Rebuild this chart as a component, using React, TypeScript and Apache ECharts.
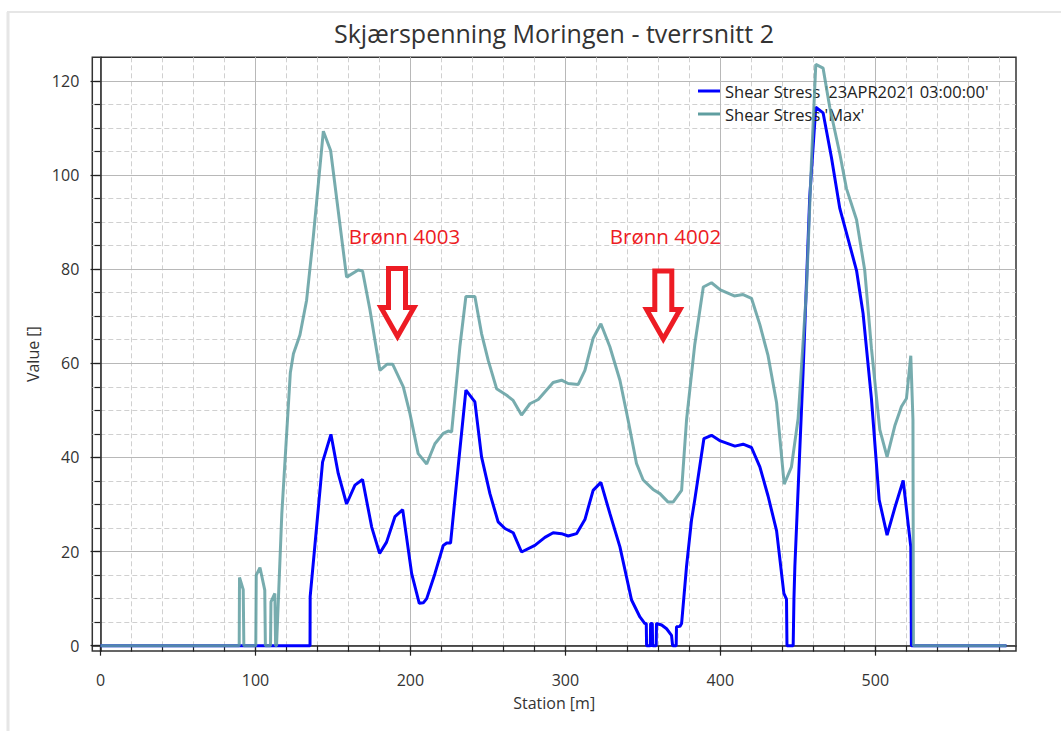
import React, { useEffect, useRef } from "react";
import * as echarts from "echarts";

const TITLE = "Skjærspenning Moringen - tverrsnitt 2";
const SERIES_NOW = "Shear Stress '23APR2021 03:00:00'";
const SERIES_MAX = "Shear Stress 'Max'";
const X_NAME = "Station [m]";
const Y_NAME = "Value []";

const stationsNow = [0, 135.2, 135.3, 143.3, 148.7, 153.4, 158.8, 164.2, 169.1, 175, 180.1, 184.6, 190, 195, 200.8, 205.7, 208.3, 210.5, 215.8, 221.2, 223.4, 225.9, 230.8, 235.8, 241.6, 245.9, 251.3, 256.6, 261, 266.3, 271.7, 280.3, 286.8, 292.1, 297.5, 301.8, 307.2, 312.6, 317.9, 322.9, 328.7, 335.2, 342.7, 348.1, 351.3, 352.2, 352.4, 354.8, 355, 356.1, 356.3, 358.6, 358.8, 362.1, 365.3, 368.5, 369.2, 371.5, 371.7, 373.9, 375, 378.2, 381.4, 383.5, 389.4, 394.3, 400, 409.4, 414.7, 420.1, 425.5, 430.8, 436.3, 441, 442.7, 443, 447, 447.5, 448.1, 453.4, 457.7, 461.6, 466.3, 471.7, 477.1, 482.5, 487.9, 492.1, 497.5, 502.5, 507.6, 512.6, 518, 522.9, 523.3, 584.6];
const valuesNow = [0, 0, 10.4, 39, 44.9, 36.6, 30.1, 34.1, 35.3, 25.2, 19.6, 22, 27.4, 28.9, 15.3, 9, 9.1, 10, 15.3, 21.3, 21.8, 21.8, 38, 54.3, 51.8, 40.1, 32.3, 26.3, 24.9, 24, 19.9, 21.3, 23, 24, 23.8, 23.3, 23.8, 26.8, 33, 34.7, 28.1, 21, 9.7, 6.1, 4.7, 4.7, 0, 0, 4.7, 4.7, 0, 0, 4.7, 4.4, 3.6, 2.2, 0, 0, 4, 4.1, 4.7, 16.9, 26.7, 31, 44, 44.7, 43.5, 42.4, 42.8, 42.1, 38, 31.8, 24.4, 11.1, 9.9, 0, 0, 10, 16.9, 58.2, 95.4, 114.4, 113.2, 103.7, 92.9, 86.3, 79.7, 70.6, 52.5, 31, 23.5, 29.3, 35.1, 21, 0, 0];

const stationsMax = [0, 89.5, 89.7, 92.1, 92.5, 100.2, 100.5, 102.9, 106, 106.4, 109.7, 110, 112.5, 113, 113.6, 117, 122.5, 124.5, 128.7, 133, 137.3, 143.8, 148.5, 158.8, 166.3, 169.1, 173.9, 180.3, 185, 188.5, 195.4, 199.7, 205, 210.5, 215.8, 221.2, 224.4, 226.6, 231.9, 235.8, 241.6, 245.9, 250.2, 255.6, 262.1, 266.3, 271.7, 277.1, 282.5, 292.1, 297.5, 301.8, 308.3, 312.6, 317.9, 322.9, 328.7, 335.2, 340.5, 345.9, 350.2, 356.6, 361, 366.3, 369.5, 375, 378.2, 383.5, 389, 394.3, 400, 409, 414.7, 420.1, 425.5, 430.8, 436.3, 441.2, 445.9, 450.2, 455.6, 458.8, 461.6, 466.3, 470.6, 477.1, 481.4, 487.9, 493.2, 497.5, 502.9, 507.6, 512.6, 516.9, 520.1, 522.9, 524.3, 524.6, 584.6];
const valuesMax = [0, 0, 14.5, 11.9, 0, 0, 15, 16.6, 11.8, 0, 0, 9.3, 11.1, 0, 0, 28, 58, 62, 66, 73.4, 86.8, 109.3, 105.2, 78.3, 79.8, 79.6, 71.3, 58.5, 59.8, 59.8, 55, 49.3, 40.8, 38.6, 42.9, 45.1, 45.6, 45.4, 63.5, 74.2, 74.2, 66.3, 60.6, 54.6, 53.2, 52.1, 49, 51.4, 52.3, 55.9, 56.4, 55.7, 55.5, 58.5, 65.3, 68.4, 63.5, 56.4, 47.9, 38.7, 35.2, 33.2, 32.3, 30.5, 30.5, 33, 48, 64, 76.2, 77.1, 75.6, 74.3, 74.6, 73.8, 68.2, 61.6, 51.6, 34.3, 38, 48.3, 75.6, 102.9, 123.5, 122.7, 114.4, 104.5, 97.1, 90.5, 79.7, 63.2, 45.9, 40.1, 46.7, 50.8, 52.5, 61.6, 48, 0, 0];

const xMajorTicks = [0, 100, 200, 300, 400, 500];
const xMinorTicks = [0, 20, 40, 60, 80, 100, 120, 140, 160, 180, 200, 220, 240, 260, 280, 300, 320, 340, 360, 380, 400, 420, 440, 460, 480, 500, 520, 540, 560, 580];
const yMajorTicks = [0, 20, 40, 60, 80, 100, 120];
const yMinorTicks = [0, 5, 10, 15, 20, 25, 30, 35, 40, 45, 50, 55, 60, 65, 70, 75, 80, 85, 90, 95, 100, 105, 110, 115, 120];

const annotations = ["Brønn 4003", "Brønn 4002"];

const X_MIN = -5.3;
const X_MAX = 590.8;
const Y_MIN = -1.13;
const Y_MAX = 125;

const FONT = "'Open Sans', 'Noto Sans', sans-serif";
const BLUE = "#0000ff";
const TEAL = "#5f9ea0";
const RED = "#ed1c24";
const AXIS = "#222";

export default function App() {
  const ref = useRef<HTMLDivElement>(null);
  useEffect(() => {
    if (!ref.current) return;
    const chart = echarts.init(ref.current, null, { renderer: "svg" });
    const now = stationsNow.map((s, i) => [s, valuesNow[i]]);
    const max = stationsMax.map((s, i) => [s, valuesMax[i]]);
    const tickStyle = { color: AXIS, width: 1.2 };
    const arrow1 = [[388.5, 268.5], [405.5, 268.5], [405.5, 307.5], [414, 307.5], [397.5, 336.5], [381, 307.5], [388.5, 307.5]];
    const arrow2 = [[654.8, 271], [671.8, 271], [671.8, 309.5], [680, 309.5], [663.3, 339], [646.6, 309.5], [654.8, 309.5]];
    chart.setOption({
      animation: false,
      backgroundColor: "#ffffff",
      textStyle: { fontFamily: FONT },
      grid: {
        left: 92.3, top: 57.3, right: 45, bottom: 80,
        show: true, borderColor: "#333", borderWidth: 1.5, backgroundColor: "transparent",
      },
      legend: {
        left: 693, top: 76, orient: "vertical", icon: "rect",
        itemWidth: 22, itemHeight: 3, itemGap: 3,
        textStyle: { fontSize: 16.5, color: "#222", fontFamily: FONT, lineHeight: 20 },
        data: [SERIES_NOW, SERIES_MAX],
      },
      xAxis: [
        {
          type: "value", min: X_MIN, max: X_MAX, position: "bottom", z: 0,
          axisLine: { show: false },
          axisTick: { show: true, length: 6, customValues: xMinorTicks, lineStyle: tickStyle },
          axisLabel: { show: false },
          splitLine: { show: true, lineStyle: { color: "#d0d0d0", type: [5, 3], width: 1 } },
        },
        {
          type: "value", min: X_MIN, max: X_MAX, position: "bottom", z: 1,
          axisLine: { show: true, lineStyle: { color: AXIS, width: 1.5 } },
          axisTick: { show: true, length: 10, customValues: xMajorTicks, lineStyle: tickStyle },
          axisLabel: { show: true, customValues: xMajorTicks, margin: 21, fontSize: 16, color: "#333", fontFamily: FONT },
          splitLine: { show: true, lineStyle: { color: "#b8b8b8", width: 1 } },
          name: X_NAME, nameLocation: "middle", nameGap: 44,
          nameTextStyle: { fontSize: 16, color: "#333", fontFamily: FONT },
        },
      ],
      yAxis: [
        {
          type: "value", min: Y_MIN, max: Y_MAX, position: "left", z: 0,
          axisLine: { show: false },
          axisTick: { show: true, length: 6, customValues: yMinorTicks, lineStyle: tickStyle },
          axisLabel: { show: false },
          splitLine: { show: true, lineStyle: { color: "#d0d0d0", type: [5, 3], width: 1 } },
        },
        {
          type: "value", min: Y_MIN, max: Y_MAX, position: "left", z: 1,
          axisLine: { show: true, lineStyle: { color: AXIS, width: 1.5 } },
          axisTick: { show: true, length: 10, customValues: yMajorTicks, lineStyle: tickStyle },
          axisLabel: { show: true, customValues: yMajorTicks, margin: 13, fontSize: 16, color: "#333", fontFamily: FONT },
          splitLine: { show: true, lineStyle: { color: "#b8b8b8", width: 1 } },
          name: Y_NAME, nameLocation: "middle", nameGap: 42,
          nameTextStyle: { fontSize: 16, color: "#333", fontFamily: FONT },
        },
      ],
      series: [
        {
          name: SERIES_NOW, type: "line", xAxisIndex: 1, yAxisIndex: 1,
          data: now, showSymbol: false, symbol: "none",
          lineStyle: { color: BLUE, width: 3 }, itemStyle: { color: BLUE },
          z: 3,
        },
        {
          name: SERIES_MAX, type: "line", xAxisIndex: 1, yAxisIndex: 1,
          data: max, showSymbol: false, symbol: "none",
          lineStyle: { color: TEAL, width: 3, opacity: 0.85 }, itemStyle: { color: TEAL },
          z: 4,
        },
      ],
      graphic: [
        { type: "line", shape: { x1: 7, y1: 12, x2: 1061, y2: 12 }, style: { stroke: "#e6e6e6", lineWidth: 2 }, silent: true },
        { type: "line", shape: { x1: 8, y1: 12, x2: 8, y2: 731 }, style: { stroke: "#e6e6e6", lineWidth: 3 }, silent: true },
        {
          type: "text", x: 554, y: 33,
          style: { text: TITLE, fill: "#333", font: `25px ${FONT}`, align: "center", verticalAlign: "middle" },
        },
        {
          type: "text", x: 404.5, y: 236, z: 10,
          style: { text: annotations[0], fill: RED, font: `20.5px ${FONT}`, align: "center", verticalAlign: "middle" },
        },
        {
          type: "text", x: 665.5, y: 236, z: 10,
          style: { text: annotations[1], fill: RED, font: `20.5px ${FONT}`, align: "center", verticalAlign: "middle" },
        },
        {
          type: "polygon", z: 10, shape: { points: arrow1 },
          style: { fill: "#ffffff", stroke: RED, lineWidth: 5, lineJoin: "miter", miterLimit: 10 },
        },
        {
          type: "polygon", z: 10, shape: { points: arrow2 },
          style: { fill: "#ffffff", stroke: RED, lineWidth: 5, lineJoin: "miter", miterLimit: 10 },
        },
      ],
    });
    return () => chart.dispose();
  }, []);
  return (
    <div
      ref={ref}
      style={{ position: "fixed", left: 0, top: 0, width: 1061, height: 731, background: "#fff" }}
    />
  );
}
